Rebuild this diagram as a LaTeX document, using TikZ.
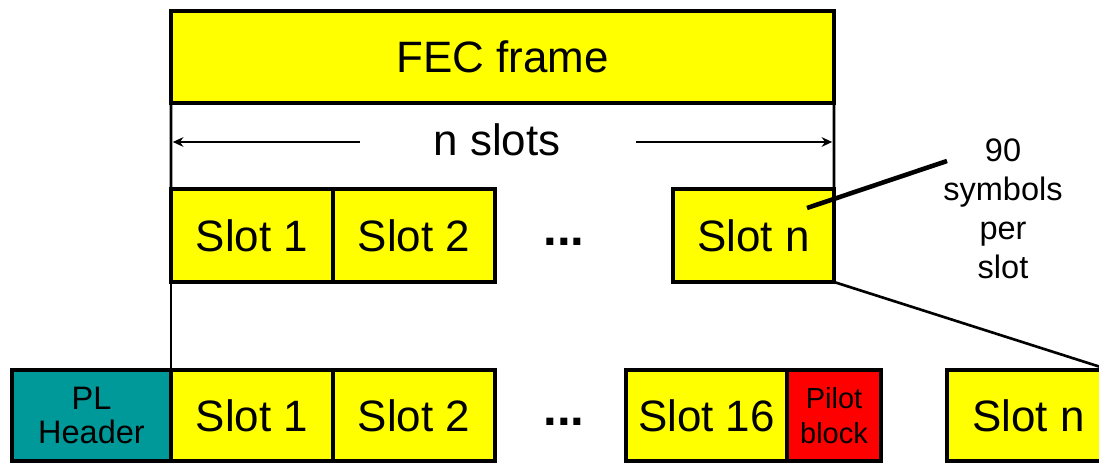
\documentclass[tikz,border=0pt]{standalone}
\usepackage{fontspec}
\setmainfont{Liberation Sans}
\usetikzlibrary{arrows.meta}
\definecolor{slotyellow}{HTML}{FFFF00}
\definecolor{headerteal}{HTML}{009999}
\definecolor{pilotred}{HTML}{FF0000}

\begin{document}
\begin{tikzpicture}[x=0.02cm, y=-0.02cm,
  box/.style={draw=black, line width=2.3pt, fill=slotyellow, inner sep=0pt,
    outer sep=0pt, minimum height=1.86cm, minimum width=3.24cm,
    font=\fontsize{25}{30}\selectfont},
  lowbox/.style={box, minimum height=1.82cm},
  smalltext/.style={align=center, font=\fontsize{18.5}{19.5}\selectfont},
  link/.style={draw=black, line width=1.5pt},
  callout/.style={draw=black, line width=2.6pt},
  span/.style={draw=black, line width=1.5pt, -{Stealth[length=6pt,width=5.5pt]}, shorten >=1pt},
  plain/.style={inner sep=0pt, font=\fontsize{25}{30}\selectfont},
  ellipsis/.style={inner sep=0pt, font=\bfseries\fontsize{28}{30}\selectfont}
]
\useasboundingbox (0,0) rectangle (1099,463);
\clip (0,0) rectangle (1099,463);

% FEC frame
\node[box, minimum width=13.26cm, minimum height=1.84cm] (fec) at (502.5,57) {FEC frame};

% slots of the frame
\node[box] (s1a) at (252,235.5) {Slot 1};
\node[box] (s2a) at (414,235.5) {Slot 2};
\node[ellipsis] (dotsa) at (564,242) {...};
\node[box, minimum width=3.22cm] (sna) at (753.5,235.5) {Slot n};

% n slots span
\node[plain] (nslots) at (497,140) {n slots};
\coordinate (la) at (360,142);
\coordinate (ra) at (636,142);
\draw[span] (la) -- (la -| fec.west);
\draw[span] (ra) -- (ra -| fec.east);

% frame edges down to the slot row
\draw[link] (fec.south west) -- (s1a.north west);
\draw[link] (fec.south east) -- (sna.north east);

% symbols per slot note
\node[smalltext, font=\fontsize{18.5}{22.3}\selectfont, anchor=north, inner sep=0pt] (note) at (1003,138) {90\\symbols\\per\\slot};
\coordinate (ca) at (947,161);
\coordinate (cb) at (807,208);
\draw[callout] (ca) -- (cb);

% physical layer frame
\node[lowbox, fill=headerteal, minimum width=3.18cm, font=\fontsize{18.5}{19.5}\selectfont, align=center] (plh) at (91.5,415.5) {PL\\Header};
\node[lowbox] (s1b) at (252,415.5) {Slot 1};
\node[lowbox] (s2b) at (414,415.5) {Slot 2};
\node[ellipsis] (dotsb) at (564,422) {...};
\node[lowbox, minimum width=3.22cm] (s16) at (706.5,415.5) {Slot 16};
\node[lowbox, fill=pilotred, minimum width=1.88cm, font=\fontsize{16.5}{20}\selectfont, align=center] (pilot) at (834,415.5) {Pilot\\block};
\node[lowbox, minimum width=3.26cm] (snb) at (1028.5,415.5) {Slot n};

% mapping lines between the two rows
\draw[link] (s1a.south west) -- (s1b.north west);
\draw[link] (sna.south east) -- (snb.north east);
\end{tikzpicture}
\end{document}
